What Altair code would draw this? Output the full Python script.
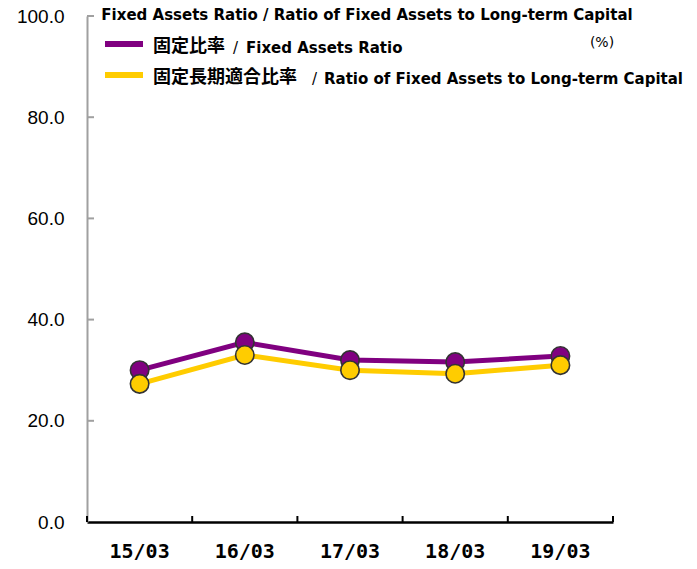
import altair as alt
import pandas as pd

periods = ["15/03", "16/03", "17/03", "18/03", "19/03"]
fixed_ratio = [30.0, 35.5, 32.0, 31.6, 32.8]
fixed_lt_ratio = [27.3, 33.0, 30.0, 29.3, 31.0]
y_ticks = [0, 20, 40, 60, 80, 100]
jp_labels = ["固定比率", "固定長期適合比率"]
en_labels = ["Fixed Assets Ratio", "Ratio of Fixed Assets to Long-term Capital"]
title_text = "Fixed Assets Ratio / Ratio of Fixed Assets to Long-term Capital"
unit_text = "(%)"

PURPLE = "#800080"
YELLOW = "#FFCC00"
W, H = 526, 506

df = pd.DataFrame({
    "period": periods * 2,
    "value": fixed_ratio + fixed_lt_ratio,
    "series": ["fixed"] * len(periods) + ["lt"] * len(periods),
})
ticks_df = pd.DataFrame({"period": periods})
yt_df = pd.DataFrame({"value": y_ticks[1:]})

xscale = alt.Scale(type="band", domain=periods, paddingInner=0, paddingOuter=0)
yscale = alt.Scale(domain=[0, 100], nice=False)

x_axis = alt.Axis(title=None, labelAngle=0, domainColor="black", domainWidth=2.5,
                  ticks=False, tickSize=0, labelFont="DejaVu Sans Mono", labelFontWeight="bold",
                  labelFontSize=20, labelColor="black", labelPadding=19)
y_axis = alt.Axis(values=y_ticks, format=".1f", title=None, grid=False, ticks=False, tickSize=0,
                  domainColor="#a0a0a0", domainWidth=2, labelFont="Liberation Sans",
                  labelFontSize=19, labelColor="black", labelPadding=23)

X = lambda bp: alt.X("period:N", scale=xscale, bandPosition=bp, axis=x_axis)
Y = alt.Y("value:Q", scale=yscale, axis=y_axis)

base = alt.Chart(df)

def line_layer(series, color):
    return base.transform_filter(alt.datum.series == series).mark_line(
        color=color, strokeWidth=5).encode(x=X(0.5), y=Y)

def point_layer(series, color):
    return base.transform_filter(alt.datum.series == series).mark_circle(
        color=color, size=340, opacity=1, stroke="#333333", strokeWidth=1.6).encode(x=X(0.5), y=Y)

x_ticks = alt.Chart(ticks_df).mark_rule(color="black", strokeWidth=2).encode(
    x=X(0), y=alt.value(H - 6), y2=alt.value(H),
)
x_tick_end = alt.Chart(ticks_df).mark_rule(color="black", strokeWidth=2).encode(
    x=alt.value(W), y=alt.value(H - 6), y2=alt.value(H),
)
y_tick_marks = alt.Chart(yt_df).mark_rule(color="#a0a0a0", strokeWidth=2).encode(
    x=alt.value(0), x2=alt.value(7), y=Y,
)

def text(txt, x, y, size, weight="bold", font="DejaVu Sans", align="left", baseline="middle", color="black"):
    return alt.Chart(pd.DataFrame({"t": [txt]})).mark_text(
        align=align, baseline=baseline, font=font, fontSize=size, fontWeight=weight, color=color
    ).encode(text="t:N", x=alt.value(x), y=alt.value(y))

def swatch(color, y):
    return alt.Chart(pd.DataFrame({"t": [0]})).mark_rule(color=color, strokeWidth=6).encode(
        x=alt.value(18), x2=alt.value(56), y=alt.value(y))

layers = [
    line_layer("fixed", PURPLE),
    y_tick_marks,
    x_ticks, x_tick_end,
    point_layer("fixed", PURPLE),
    line_layer("lt", YELLOW),
    point_layer("lt", YELLOW),
    text(title_text, 280, 4, 15, baseline="alphabetic", align="center"),
    swatch(PURPLE, 28), swatch(YELLOW, 59),
    text(jp_labels[0], 66, 31, 18, font="Noto Sans CJK JP"),
    text("/", 146, 32, 15, weight="normal"),
    text(en_labels[0], 159, 32, 15),
    text(jp_labels[1], 66, 62, 18, font="Noto Sans CJK JP"),
    text("/", 225, 63, 15, weight="normal"),
    text(en_labels[1], 237, 63, 15),
    text(unit_text, 515, 27, 14, weight="normal", align="center"),
]

chart = alt.layer(*layers).properties(
    width=W, height=H,
    autosize=alt.AutoSizeParams(type="none"),
    padding={"left": 79, "top": 8, "right": 76, "bottom": 39},
).configure_view(stroke=None)

chart.save("out.html", embed_options={"renderer": "svg", "actions": False})
